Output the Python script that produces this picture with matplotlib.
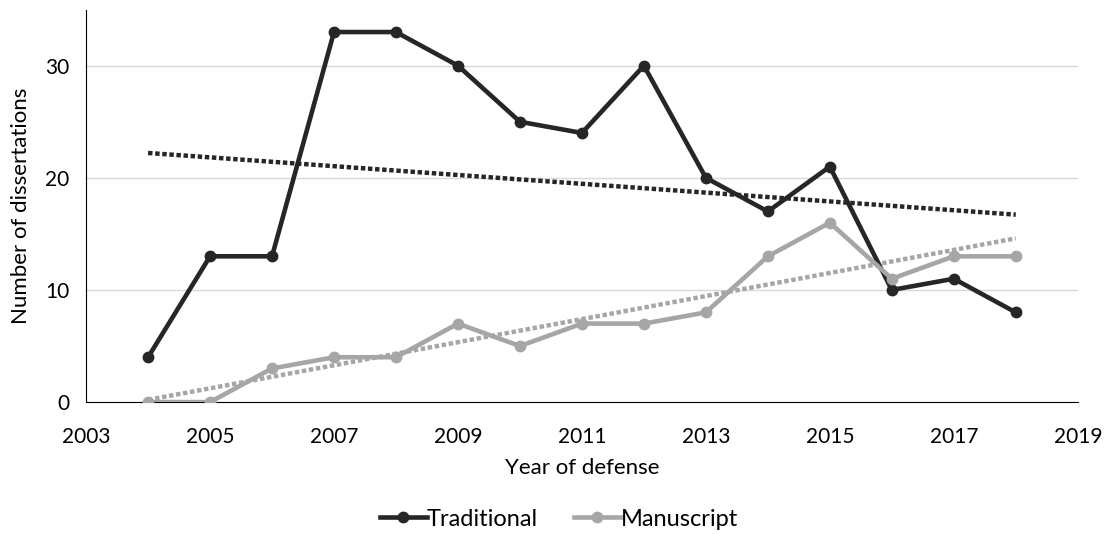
import numpy as np
import matplotlib
matplotlib.use("Agg")
from matplotlib import pyplot as plt

plt.rcParams['font.family'] = ['Lato', 'DejaVu Sans']

years = [2004, 2005, 2006, 2007, 2008, 2009, 2010, 2011, 2012, 2013, 2014, 2015, 2016, 2017, 2018]
traditional = [4, 13, 13, 33, 33, 30, 25, 24, 30, 20, 17, 21, 10, 11, 8]
manuscript = [0, 0, 3, 4, 4, 7, 5, 7, 7, 8, 13, 16, 11, 13, 13]

dark = '#262626'
grey = '#a6a6a6'

fig = plt.figure(figsize=(11.18, 5.34), dpi=100)
ax = fig.add_axes([0.077, 0.247, 0.887, 0.735])

x = np.array(years)
# linear trendlines, like Excel
for vals, c in [(traditional, dark), (manuscript, grey)]:
    k, b = np.polyfit(x, vals, 1)
    ax.plot(x, k * x + b, color=c, linestyle=(0, (1, 0.6)), linewidth=3.2, zorder=2)

ax.plot(years, traditional, color=dark, marker='o', markersize=7.5, linewidth=3.3,
        label='Traditional', zorder=3)
ax.plot(years, manuscript, color=grey, marker='o', markersize=7.5, linewidth=3.3,
        label='Manuscript', zorder=3)

ax.set_xlim(2003, 2019)
ax.set_ylim(0, 35)
ax.set_xticks(range(2003, 2020, 2))
ax.set_yticks([0, 10, 20, 30])
ax.yaxis.grid(True, color='#d9d9d9', linewidth=1)
ax.set_axisbelow(True)
for s in ['top', 'right']:
    ax.spines[s].set_visible(False)
ax.spines['left'].set_color('black')
ax.spines['bottom'].set_color('black')
ax.tick_params(axis='x', length=0, labelsize=15, pad=18)
ax.tick_params(axis='y', length=0, labelsize=15, pad=12)

ax.set_xlabel('Year of defense', fontsize=16, labelpad=8)
ax.set_ylabel('Number of dissertations', fontsize=16, labelpad=10)

fig.legend(loc='center', bbox_to_anchor=(0.5, 0.028), ncol=2, frameon=False,
           fontsize=17, handlelength=2.0, columnspacing=1.5, handletextpad=0.0)

fig.savefig('out.png', dpi=100)
